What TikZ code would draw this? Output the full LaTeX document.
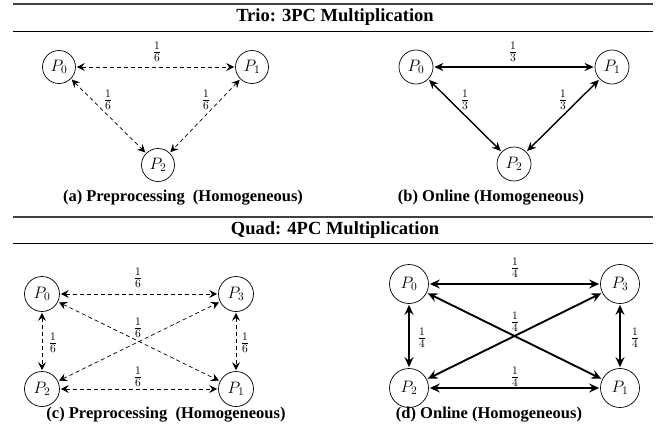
\documentclass[tikz,border=0pt]{standalone}
\usepackage{graphicx}
\usepackage{fontspec}
\setmainfont{Liberation Serif}
\usetikzlibrary{arrows.meta}
\newcommand{\mlab}[1]{\scalebox{1.15}{$#1$}}
\begin{document}
\begin{tikzpicture}[x=1pt,y=-1pt,
  pn/.style={circle,draw,line width=0.7pt,inner sep=0pt,font=\fontsize{14.4}{15}\selectfont},
  pa/.style={pn,minimum size=33pt},
  pb/.style={pn,minimum size=34pt},
  pc/.style={pn,minimum size=35pt},
  pd/.style={pn,minimum size=39pt},
  lab/.style={inner sep=0pt,font=\fontsize{14.4}{15}\selectfont},
  dsh/.style={line width=0.7pt,dash pattern=on 4pt off 3pt,
    {Stealth[length=8pt,width=8pt,inset=3pt]}-{Stealth[length=8pt,width=8pt,inset=3pt]},
    shorten <=1pt, shorten >=1pt},
  solb/.style={line width=1.4pt,
    {Stealth[length=9pt,width=8pt,inset=3pt]}-{Stealth[length=9pt,width=8pt,inset=3pt]},
    shorten <=1pt, shorten >=1pt},
  sold/.style={line width=1.9pt,
    {Stealth[length=10pt,width=9pt,inset=3.5pt]}-{Stealth[length=10pt,width=9pt,inset=3.5pt]},
    shorten <=1pt, shorten >=1pt},
  ttl/.style={inner sep=0pt,font=\fontsize{18.5}{20}\selectfont\bfseries},
  captxt/.style={inner sep=0pt,font=\fontsize{16.5}{18}\selectfont\bfseries},
  toprl/.style={line width=1.3pt,black!75},
  midrl/.style={line width=0.8pt,black}
]
\useasboundingbox (0,0) rectangle (670,437);

% Section rules and titles
\coordinate (r1a) at (13,4);   \coordinate (r1b) at (653,4);
\coordinate (r2a) at (13,31);  \coordinate (r2b) at (653,31);
\coordinate (r3a) at (13,217); \coordinate (r3b) at (653,217);
\coordinate (r4a) at (13,243); \coordinate (r4b) at (653,243);
\draw[toprl] (r1a) -- (r1b);
\draw[midrl] (r2a) -- (r2b);
\draw[toprl] (r3a) -- (r3b);
\draw[midrl] (r4a) -- (r4b);
\node[ttl] (t1) at (335,17.5) {Trio: 3PC Multiplication};
\node[ttl] (t2) at (335,230) {Quad: 4PC Multiplication};

% (a)
\node[pa] (a0) at (59,67) {\mlab{P_0}};
\node[pa] (a1) at (252,67) {\mlab{P_1}};
\node[pa] (a2) at (158,165) {\mlab{P_2}};
\draw[dsh] (a0) -- (a1);
\draw[dsh] (a0) -- (a2);
\draw[dsh] (a1) -- (a2);
\node[lab] (la1) at (157,52) {\mlab{\frac{1}{6}}};
\node[lab] (la2) at (108,100) {\mlab{\frac{1}{6}}};
\node[lab] (la3) at (206,100) {\mlab{\frac{1}{6}}};
\node[captxt] (ca) at (183,198) {(a) Preprocessing\ \ (Homogeneous)};

% (b)
\node[pb] (b0) at (416,67) {\mlab{P_0}};
\node[pb] (b1) at (612,67) {\mlab{P_1}};
\node[pb] (b2) at (514,164) {\mlab{P_2}};
\draw[solb] (b0) -- (b1);
\draw[solb] (b0) -- (b2);
\draw[solb] (b1) -- (b2);
\node[lab] (lb1) at (513,52) {\mlab{\frac{1}{3}}};
\node[lab] (lb2) at (465,100) {\mlab{\frac{1}{3}}};
\node[lab] (lb3) at (563,100) {\mlab{\frac{1}{3}}};
\node[captxt] (cb) at (491,198) {(b) Online (Homogeneous)};

% (c)
\node[pc] (c0) at (42,294) {\mlab{P_0}};
\node[pc] (c3) at (236,294) {\mlab{P_3}};
\node[pc] (c2) at (42,389) {\mlab{P_2}};
\node[pc] (c1) at (236,389) {\mlab{P_1}};
\draw[dsh] (c0) -- (c3);
\draw[dsh] (c2) -- (c1);
\draw[dsh] (c0) -- (c2);
\draw[dsh] (c3) -- (c1);
\draw[dsh] (c0) -- (c1);
\draw[dsh] (c2) -- (c3);
\node[lab] (lc1) at (138,278) {\mlab{\frac{1}{6}}};
\node[lab] (lc2) at (138,328) {\mlab{\frac{1}{6}}};
\node[lab] (lc3) at (138,377) {\mlab{\frac{1}{6}}};
\node[lab] (lc4) at (53,343) {\mlab{\frac{1}{6}}};
\node[lab] (lc5) at (245,343) {\mlab{\frac{1}{6}}};
\node[captxt] (cc) at (166,415) {(c) Preprocessing\ \ (Homogeneous)};

% (d)
\node[pd] (d0) at (409,284) {\mlab{P_0}};
\node[pd] (d3) at (620,284) {\mlab{P_3}};
\node[pd] (d2) at (409,388) {\mlab{P_2}};
\node[pd] (d1) at (620,388) {\mlab{P_1}};
\draw[sold] (d0) -- (d3);
\draw[sold] (d2) -- (d1);
\draw[sold] (d0) -- (d2);
\draw[sold] (d3) -- (d1);
\draw[sold] (d0) -- (d1);
\draw[sold] (d2) -- (d3);
\node[lab] (ld1) at (515,268) {\mlab{\frac{1}{4}}};
\node[lab] (ld2) at (515,322) {\mlab{\frac{1}{4}}};
\node[lab] (ld3) at (515,377) {\mlab{\frac{1}{4}}};
\node[lab] (ld4) at (422,338) {\mlab{\frac{1}{4}}};
\node[lab] (ld5) at (635,338) {\mlab{\frac{1}{4}}};
\node[captxt] (cd) at (489,415) {(d) Online (Homogeneous)};
\end{tikzpicture}
\end{document}
